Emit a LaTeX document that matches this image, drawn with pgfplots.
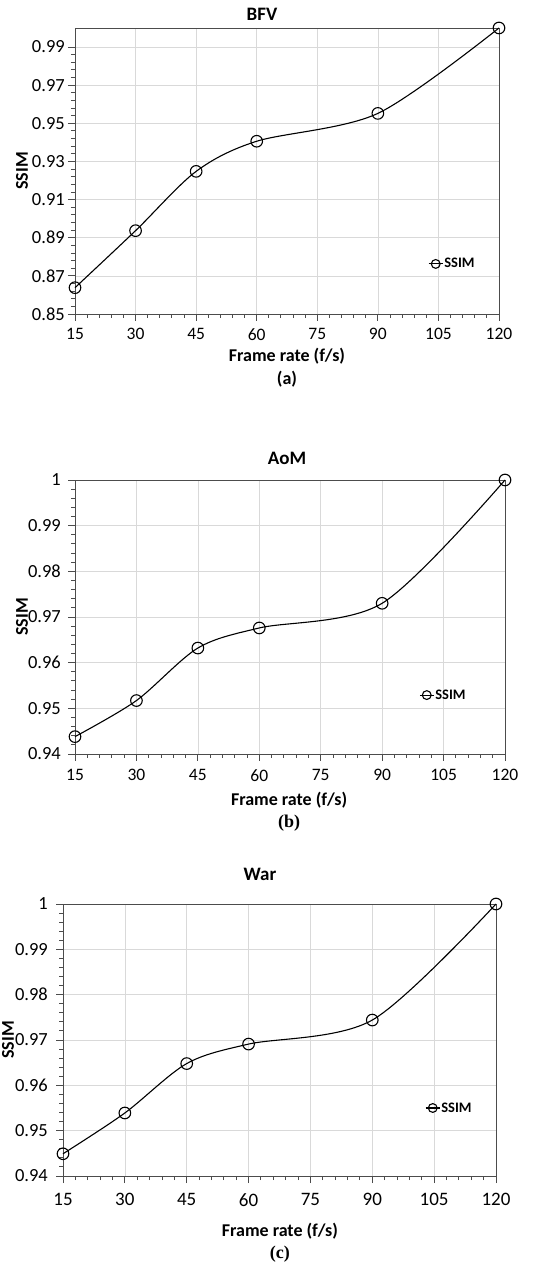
\documentclass[border=0pt]{standalone}
\usepackage{pgfplots}
\pgfplotsset{compat=1.18}
\usepackage{fontspec}
\setmainfont{Carlito}
\newfontfamily\serifbold{Liberation Serif}
\tikzset{ttl/.style={font=\fontsize{19}{21}\selectfont\bfseries, anchor=center, inner sep=0pt}}
\begin{document}
\begin{tikzpicture}
\useasboundingbox (0pt,0pt) rectangle (553pt,1265pt);
\pgfplotsset{
  panel/.style={
    scale only axis,
    clip=false,
    xmin=15, xmax=120,
    xtick={15,30,45,60,75,90,105,120},
    minor x tick num=4,
    minor y tick num=4,
    tick pos=left,
    xmajorgrids, ymajorgrids,
    major grid style={draw=black!15, line width=0.7pt},
    axis line style={draw=black!70, line width=0.9pt},
    every tick/.style={draw=black!70, line width=0.9pt},
    tick align=outside,
    major tick length=7pt,
    minor tick length=4pt,
    /pgf/number format/assume math mode=true,
    ylabel={\textbf{SSIM}},
    xlabel={\textbf{Frame rate (f/s)}},
    label style={font=\fontsize{18}{20}\selectfont},
    ylabel style={anchor=center},
    xlabel style={anchor=center},
    legend style={draw=none, fill=none, inner sep=0pt, anchor=west,
      font=\fontsize{14.5}{16}\selectfont\bfseries,
      nodes={inner sep=1pt}},
    legend cell align=left,
    legend image code/.code={
      \draw[#1, mark repeat=2, mark phase=2, mark size=4.4pt]
        plot coordinates {(0pt,0pt) (7pt,0pt) (14pt,0pt)};
    },
  },
  ser/.style={black, line width=1.1pt, smooth, tension=0.5, mark=o,
    mark size=5.8pt, mark options={line width=1.1pt, fill=none}},
}
% ---------- (a) BFV ----------
\begin{axis}[panel,
  at={(75pt,951pt)}, anchor=south west,
  width=424pt, height=286pt,
  ymin=0.85, ymax=1.0,
  ytick={0.85,0.87,0.89,0.91,0.93,0.95,0.97,0.99},
  yticklabels={0.85,0.87,0.89,0.91,0.93,0.95,0.97,0.99},
  x tick label style={font=\fontsize{17.5}{18}\selectfont, inner sep=0pt, yshift=-7pt},
  y tick label style={font=\fontsize{18.5}{19}\selectfont, inner sep=0pt, xshift=-3pt},
  xlabel style={at={(axis description cs:0.5,-0.147)}},
  ylabel style={at={(axis description cs:-0.125,0.5)}},
  legend style={at={(axis description cs:0.8325,0.175)}},
]
\addplot[ser] coordinates {
  (15,0.8638) (30,0.8937) (45,0.9248) (60,0.9406) (90,0.9552) (120,1.0)
};
\addlegendentry{SSIM}
\node[ttl] at (axis description cs:0.441,1.046) {BFV};
\node[font=\fontsize{18}{20}\selectfont\bfseries] at (axis description cs:0.5,-0.227) {(a)};
\end{axis}
% ---------- (b) AoM ----------
\begin{axis}[panel,
  at={(75pt,511pt)}, anchor=south west,
  width=430pt, height=274pt,
  ymin=0.94, ymax=1.0,
  ytick={0.94,0.95,0.96,0.97,0.98,0.99,1.0},
  yticklabels={0.94,0.95,0.96,0.97,0.98,0.99,1},
  x tick label style={font=\fontsize{17.5}{18}\selectfont, inner sep=0pt, yshift=-8pt},
  y tick label style={font=\fontsize{18.5}{19}\selectfont, inner sep=0pt, xshift=-7pt},
  xlabel style={at={(axis description cs:0.498,-0.168)}},
  ylabel style={at={(axis description cs:-0.123,0.5)}},
  legend style={at={(axis description cs:0.80,0.215)}},
]
\addplot[ser] coordinates {
  (15,0.9438) (30,0.9517) (45,0.9632) (60,0.9676) (90,0.9730) (120,1.0)
};
\addlegendentry{SSIM}
\node[ttl] at (axis description cs:0.493,1.080) {AoM};
\node[font=\fontsize{18}{20}\serifbold\bfseries] at (axis description cs:0.498,-0.252) {(b)};
\end{axis}
% ---------- (c) War ----------
\begin{axis}[panel,
  at={(63pt,89pt)}, anchor=south west,
  width=433pt, height=272pt,
  ymin=0.94, ymax=1.0,
  ytick={0.94,0.95,0.96,0.97,0.98,0.99,1.0},
  yticklabels={0.94,0.95,0.96,0.97,0.98,0.99,1},
  x tick label style={font=\fontsize{19}{20}\selectfont, inner sep=0pt, yshift=-10pt},
  y tick label style={font=\fontsize{18.5}{19}\selectfont, inner sep=0pt, xshift=-8pt},
  xlabel style={at={(axis description cs:0.501,-0.202)}},
  ylabel style={at={(axis description cs:-0.127,0.5)}},
  legend style={at={(axis description cs:0.836,0.25)}},
]
\addplot[ser] coordinates {
  (15,0.9449) (30,0.9539) (45,0.9648) (60,0.9691) (90,0.9744) (120,1.0)
};
\addlegendentry{SSIM}
\node[ttl] at (axis description cs:0.455,1.107) {War};
\node[font=\fontsize{18}{20}\serifbold\bfseries] at (axis description cs:0.501,-0.287) {(c)};
\end{axis}
\end{tikzpicture}
\end{document}
